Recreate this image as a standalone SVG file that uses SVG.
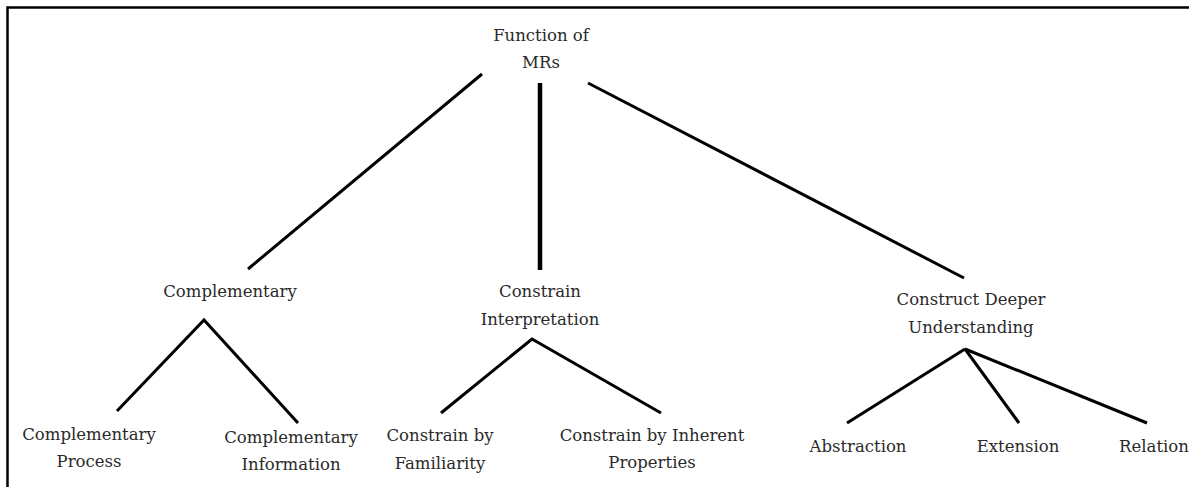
<svg xmlns="http://www.w3.org/2000/svg" width="1189" height="487" viewBox="0 0 1189 487">
<style>
.t text{font-size:16.5px;fill:#2a2a2a;text-anchor:middle}
.c{stroke:#000;stroke-width:3;stroke-linecap:butt;fill:none}
.frame{stroke:#000;stroke-width:2.5;fill:none}
</style>
<rect width="1189" height="487" fill="#fff"/>
<path class="frame" d="M7.5,490 V7.5 H1192"/>
<g id="connectors">
<line class="c" x1="482" y1="74" x2="248" y2="269"/>
<line class="c" x1="540" y1="83" x2="540" y2="270" style="stroke-width:4.5"/>
<line class="c" x1="588" y1="83" x2="964" y2="278"/>
<polyline class="c" points="117,411 204,320 298,423"/>
<polyline class="c" points="441,413 532,339 661,413"/>
<line class="c" x1="965" y1="349" x2="847" y2="423"/>
<line class="c" x1="965" y1="349" x2="1019" y2="423"/>
<line class="c" x1="965" y1="349" x2="1147" y2="423"/>
</g>
<g class="t" font-family="'DejaVu Serif', serif">
<g id="root"><text x="541" y="41">Function of</text><text x="541" y="68">MRs</text></g>
<g id="complementary"><text x="230" y="297">Complementary</text></g>
<g id="constrain"><text x="540" y="297">Constrain</text><text x="540" y="325">Interpretation</text></g>
<g id="construct"><text x="971" y="305">Construct Deeper</text><text x="971" y="333">Understanding</text></g>
<g id="comp-process"><text x="89" y="440">Complementary</text><text x="89" y="467">Process</text></g>
<g id="comp-info"><text x="291" y="443">Complementary</text><text x="291" y="470">Information</text></g>
<g id="con-fam"><text x="440" y="441">Constrain by</text><text x="440" y="469">Familiarity</text></g>
<g id="con-inh"><text x="652" y="441">Constrain by Inherent</text><text x="652" y="468">Properties</text></g>
<g id="abstraction"><text x="858" y="452">Abstraction</text></g>
<g id="extension"><text x="1018" y="452">Extension</text></g>
<g id="relation"><text x="1154" y="452">Relation</text></g>
</g>
</svg>
